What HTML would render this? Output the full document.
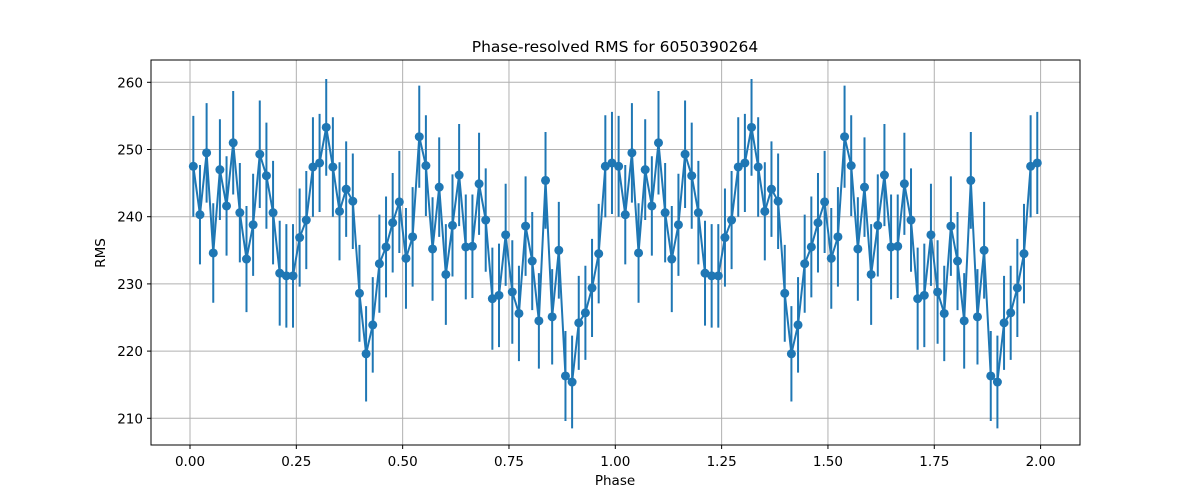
<!DOCTYPE html>
<html><head><meta charset="utf-8"><style>
body{margin:0;background:#fff}
svg{display:block;font-family:"DejaVu Sans","Liberation Sans",sans-serif}
</style></head><body>
<svg id="chart" width="1200" height="500">
<rect width="1200" height="500" fill="#fff"/>
<g id="grid"></g>
<g id="marks"></g>
<rect x="151" y="60" width="929" height="385" fill="none" stroke="#000" stroke-width="1"/>
<g id="axes"></g>
<text x="615" y="52" text-anchor="middle" font-size="15.5">Phase-resolved RMS for 6050390264</text>
<text x="615" y="485" text-anchor="middle" font-size="13.5">Phase</text>
<text x="105" y="253" text-anchor="middle" font-size="13.5" transform="rotate(-90 105 253)">RMS</text>
</svg>
<script>
const rmsValues=[247.5,240.3,249.5,234.6,247.0,241.6,251.0,240.6,233.7,238.8,249.3,246.1,240.6,231.6,231.2,231.2,236.9,239.5,247.4,248.0,253.3,247.4,240.8,244.1,242.3,228.6,219.6,223.9,233.0,235.5,239.1,242.2,233.8,237.0,251.9,247.6,235.2,244.4,231.4,238.7,246.2,235.5,235.6,244.9,239.5,227.8,228.3,237.3,228.8,225.6,238.6,233.4,224.5,245.4,225.1,235.0,216.3,215.4,224.2,225.7,229.4,234.5,247.5,248.0];
const rmsErrors=[7.5,7.4,7.4,7.4,7.5,7.4,7.7,7.4,7.9,7.6,8.0,7.9,7.7,7.8,7.7,7.7,7.3,7.3,7.4,7.3,7.2,7.4,7.3,7.1,7.1,7.2,7.1,7.1,7.3,7.5,7.4,7.6,7.5,7.4,7.6,7.5,7.7,7.4,7.5,7.6,7.6,7.8,7.7,7.6,7.7,7.6,7.7,7.6,7.7,7.1,7.4,7.3,7.1,7.2,7.1,7.2,6.7,6.9,7.0,7.0,7.3,7.4,7.6,7.6];
const xTicks=[0,0.25,0.5,0.75,1.0,1.25,1.5,1.75,2.0];
const xTickLabels=["0.00","0.25","0.50","0.75","1.00","1.25","1.50","1.75","2.00"];
const yTicks=[210,220,230,240,250,260];
const nBins=64, nCycles=2;
const ns="http://www.w3.org/2000/svg";
const X=v=>190+v*425.3;
const Y=v=>82.3+(260-v)*6.72;
function mk(tag,attrs,parent){const e=document.createElementNS(ns,tag);for(const k in attrs)e.setAttribute(k,attrs[k]);parent.appendChild(e);return e;}
const grid=document.getElementById('grid'),axes=document.getElementById('axes'),marks=document.getElementById('marks');
xTicks.forEach((t,i)=>{
  const g=mk('line',{x1:X(t),x2:X(t),y1:60,y2:445,stroke:'#b0b0b0','stroke-width':1},grid);
  
  
  const tk=mk('line',{x1:X(t),x2:X(t),y1:445,y2:449,stroke:'#000'},axes);
  
  
  const tx=mk('text',{x:X(t),y:466,'text-anchor':'middle','font-size':13.5},axes);
  tx.textContent=xTickLabels[i];
  
  
});
yTicks.forEach(t=>{
  const g=mk('line',{x1:151,x2:1080,y1:Y(t),y2:Y(t),stroke:'#b0b0b0','stroke-width':1},grid);
  
  
  const tk=mk('line',{x1:147,x2:151,y1:Y(t),y2:Y(t),stroke:'#000'},axes);
  
  
  const tx=mk('text',{x:143,y:Y(t)+5,'text-anchor':'end','font-size':13.5},axes);
  tx.textContent=String(t);
  
  
});
const pts=[];
for(let c=0;c<nCycles;c++)for(let i=0;i<nBins;i++){pts.push([c+(i+0.5)/nBins,rmsValues[i],rmsErrors[i]]);}
pts.forEach(p=>{
  const e=mk('line',{x1:X(p[0]),x2:X(p[0]),y1:Y(p[1]-p[2]),y2:Y(p[1]+p[2]),stroke:'#1f77b4','stroke-width':2},marks);
  
  
});
const line=mk('polyline',{points:pts.map(p=>X(p[0])+','+Y(p[1])).join(' '),fill:'none',stroke:'#1f77b4','stroke-width':2},marks);


pts.forEach(p=>{
  const d=mk('circle',{cx:X(p[0]),cy:Y(p[1]),r:4.5,fill:'#1f77b4'},marks);
  
  
});
</script>
</body></html>
